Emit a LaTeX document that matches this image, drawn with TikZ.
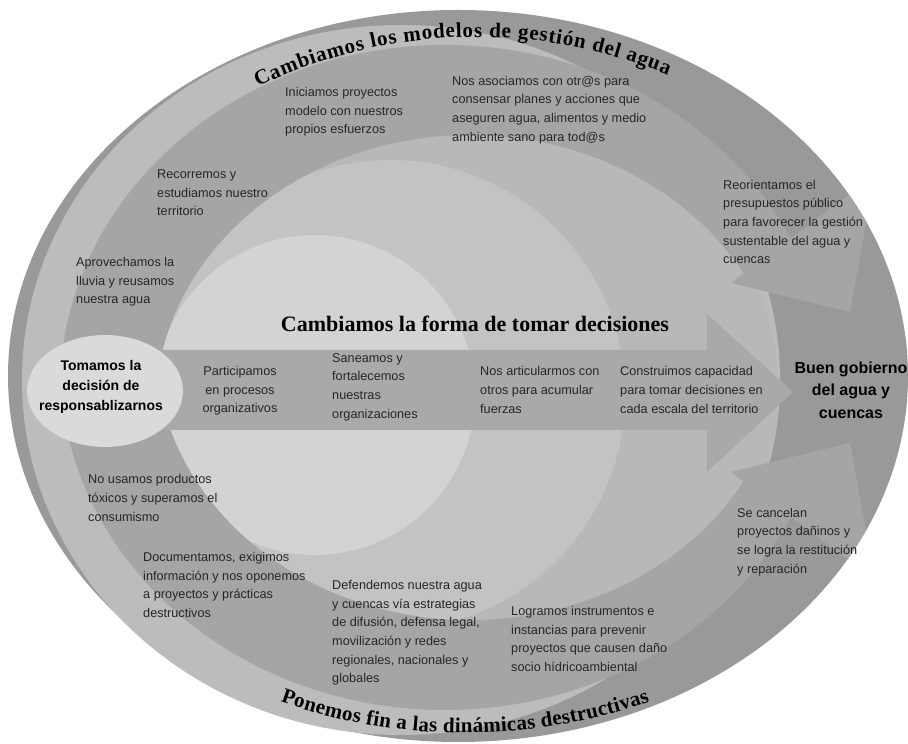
\documentclass[tikz,border=0pt]{standalone}
\usepackage{fontspec}
\setsansfont{Liberation Sans}
\newfontfamily\titlefont{Liberation Serif}
\usepackage{tikz}
\usetikzlibrary{decorations.text}

\definecolor{rimgray}{HTML}{999999}
\definecolor{crescent}{HTML}{BCBCBC}
\definecolor{innergray}{HTML}{B8B8B8}
\definecolor{midgray}{HTML}{C3C3C3}
\definecolor{palegray}{HTML}{D3D3D3}
\definecolor{bandgray}{HTML}{A5A5A5}
\definecolor{arrowgray}{HTML}{A9A9A9}
\definecolor{capsule}{HTML}{DADADA}

\begin{document}
\begin{tikzpicture}[x=1pt, y=1pt,
  txt/.style={font=\sffamily\fontsize{12.7}{18.6}\selectfont, align=left,
              anchor=west, inner sep=0pt, text=black!85},
  txtc/.style={txt, align=center, anchor=center},
  hdr/.style={font=\sffamily\bfseries\fontsize{14}{20}\selectfont,
              align=center, inner sep=0pt},
  ttl/.style={font=\titlefont\bfseries\fontsize{22}{26}\selectfont, inner sep=0pt},
  bent/.style={decorate, decoration={text along path, text align={fit to path},
              text={|\titlefont\bfseries\fontsize{21}{21}\selectfont|#1}}},
]
\useasboundingbox (0,0) rectangle (908,744);

% outer rim, light crescent and the nested circles
\fill[rimgray] (458,368) ellipse[x radius=450, y radius=366];
\fill[crescent] (401,364) ellipse[x radius=379, y radius=355];
\fill[innergray] (470,354) ellipse[x radius=308, y radius=300];
\fill[midgray] (390,349) circle[radius=235];
\fill[palegray] (315,349) circle[radius=160];

% curved arrows
\begin{scope}
  \clip (458,368) ellipse[x radius=450, y radius=366];
  \fill[bandgray] (60,354) arc[start angle=180, end angle=26.1, x radius=385, y radius=345]
    -- (875,569) -- (850,432) -- (731,461) -- (743.5,470.5)
    arc[start angle=29.76, end angle=180, x radius=315, y radius=275] -- cycle;
  \fill[bandgray] (60,379) arc[start angle=180, end angle=333.9, x radius=385, y radius=345]
    -- (875,164) -- (850,301) -- (731,272) -- (743.5,262.5)
    arc[start angle=330.24, end angle=180, x radius=315, y radius=275] -- cycle;
\end{scope}

% straight arrow
\fill[arrowgray] (150,394) -- (707,394) -- (707,430) -- (793,352)
  -- (707,272) -- (707,314) -- (150,314) -- cycle;
\fill[capsule] (105,353) ellipse[x radius=78, y radius=56];

% labels
\node[hdr] (decide) at (101,357) {Tomamos la\\decisión de\\responsablizarnos};
\node[hdr, font=\sffamily\bfseries\fontsize{16}{22.5}\selectfont] (gobierno)
  at (851,354) {Buen gobierno\\del agua y\\cuencas};
\node[ttl] (decisiones) at (475,420) {Cambiamos la forma de tomar decisiones};

\node[txt] (iniciamos) at (285,632) {Iniciamos proyectos\\modelo con nuestros\\propios esfuerzos};
\node[txt] (asociamos) at (452,634) {Nos asociamos con otr@s para\\consensar planes y acciones que\\aseguren agua, alimentos y medio\\ambiente sano para tod@s};
\node[txt] (reorientamos) at (723,522) {Reorientamos el\\presupuestos público\\para favorecer la gestión\\sustentable del agua y\\cuencas};
\node[txt] (recorremos) at (157,551) {Recorremos y\\estudiamos nuestro\\territorio};
\node[txt] (aprovechamos) at (76,462) {Aprovechamos la\\lluvia y reusamos\\nuestra agua};

\node[txtc] (participamos) at (240,353) {Participamos\\en procesos\\organizativos};
\node[txt] (saneamos) at (332,357) {Saneamos y\\fortalecemos\\nuestras\\organizaciones};
\node[txt] (articulamos) at (480,354) {Nos articularmos con\\otros para acumular\\fuerzas};
\node[txt] (construimos) at (620,354) {Construimos capacidad\\para tomar decisiones en\\cada escala del territorio};

\node[txt] (toxicos) at (88,246) {No usamos productos\\tóxicos y superamos el\\consumismo};
\node[txt] (documentamos) at (143,159) {Documentamos, exigimos\\información y nos oponemos\\a proyectos y prácticas\\destructivos};
\node[txt] (defendemos) at (332,111) {Defendemos nuestra agua\\y cuencas vía estrategias\\de difusión, defensa legal,\\movilización y redes\\regionales, nacionales y\\globales};
\node[txt] (logramos) at (511,105) {Logramos instrumentos e\\instancias para prevenir\\proyectos que causen daño\\socio hídricoambiental};
\node[txt] (cancelan) at (737,202) {Se cancelan\\proyectos dañinos y\\se logra la restitución\\y reparación};

% titles on the arcs
\path[bent={Cambiamos los modelos de gestión del agua}]
  (476,206) ++(115.8:501) arc[start angle=115.8, end angle=67.5, radius=501];
\path[bent={Ponemos fin a las dinámicas destructivas}]
  (465,572) ++(250.8:561) arc[start angle=250.8, end angle=289.2, radius=561];
\end{tikzpicture}
\end{document}
